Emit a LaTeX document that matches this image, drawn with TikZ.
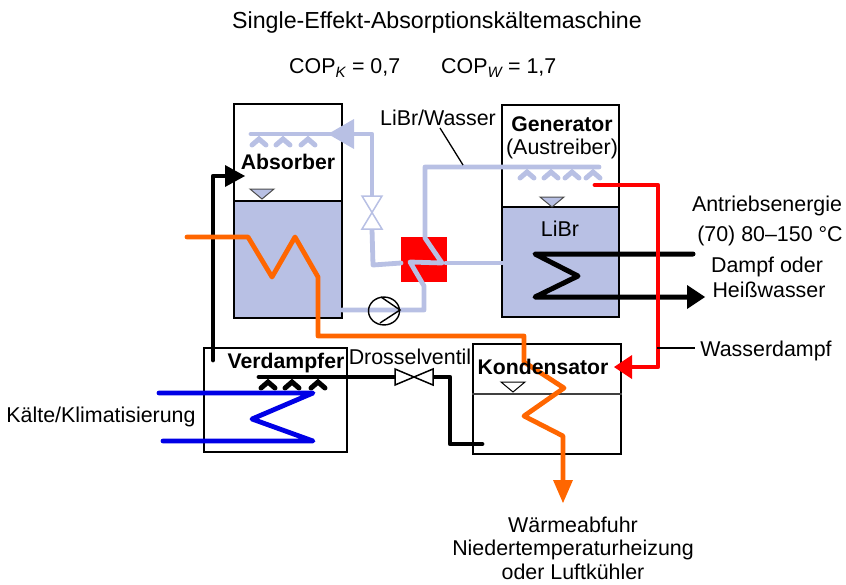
\documentclass[tikz,border=0pt]{standalone}
\usepackage{fontspec}
\setmainfont{Liberation Sans}
\usetikzlibrary{arrows.meta}
\definecolor{libr}{RGB}{184,192,228}
\definecolor{oran}{RGB}{255,102,0}
\definecolor{blu}{RGB}{0,0,230}
\tikzset{
  lab/.style={inner sep=0pt,font=\fontsize{21.4}{24}\selectfont,text=black,anchor=center},
  blab/.style={lab,font=\fontsize{21.2}{24}\selectfont\bfseries},
  tlab/.style={lab,font=\fontsize{23.2}{26}\selectfont},
  pipe/.style={line width=#1,line cap=round,line join=round},
  pipe/.default=4pt,
  leader/.style={draw=black,line width=1.3pt},
  bluepipe/.style={pipe=4.8pt,draw=libr},
  valve/.style={draw=#1,fill=white,line width=1.5pt,line join=miter},
  level/.style={draw=black,line width=1pt,fill=#1},
  nozzle/.style={line width=5pt,line cap=round,line join=miter},
}
\newcommand{\nozzleat}[3]{\draw[nozzle,#3] (#1-7,#2+6) -- (#1,#2) -- (#1+7,#2+6);}
\begin{document}
\begin{tikzpicture}[x=1pt,y=-1pt]
\useasboundingbox (0,0) rectangle (846,584);
% liquid fills
\fill[libr] (234,201) rectangle (342,318);
\fill[libr] (502,207) rectangle (619,317);
\fill[red] (401,237) rectangle (447,282);
% vessels
\node[draw,line width=1.5pt,minimum width=108pt,minimum height=214pt,inner sep=0pt] (abs) at (288,211) {};
\node[draw,line width=1.5pt,minimum width=117pt,minimum height=212pt,inner sep=0pt] (gen) at (560.5,211) {};
\node[draw,line width=1.5pt,minimum width=143pt,minimum height=104pt,inner sep=0pt] (ver) at (275.5,400) {};
\node[draw,line width=1.5pt,minimum width=148pt,minimum height=110pt,inner sep=0pt] (kon) at (547,399) {};
\draw[line width=1.4pt] (abs.west |- 0,201) -- (abs.east |- 0,201);
\draw[line width=1.4pt] (gen.west |- 0,207) -- (gen.east |- 0,207);
\draw[line width=1.2pt,black!75] (kon.west |- 0,394) -- (kon.east |- 0,394);
% level marks
\draw[level=libr,draw=black!70] (250,189) -- (274,189) -- (262,199) -- cycle;
\draw[level=libr,draw=black!70] (540,197) -- (564,197) -- (552,207) -- cycle;
\draw[level=white] (501,382) -- (525,382) -- (513,392) -- cycle;
% named pipe ends
\coordinate (solOut) at (342,310);
\coordinate (hxTop) at (425,167);
\coordinate (sprayG) at (599,167);
\coordinate (hxRet) at (446,263);
\coordinate (genOut) at (502,263);
\coordinate (hxLeft) at (401,263);
\coordinate (valveA) at (372,229);
\coordinate (valveB) at (372,196);
\coordinate (sprayA) at (251,134);
\coordinate (tipA) at (328,134);
\coordinate (tipB) at (245,176);
\coordinate (verOut) at (213,360);
\coordinate (tipH) at (705,297);
\coordinate (hIn) at (693,254);
\coordinate (vapStart) at (595,185);
\coordinate (tipK) at (614,367);
\coordinate (oStart) at (187,237);
\coordinate (tipO) at (563,503);
\coordinate (bStart) at (159,393);
\coordinate (bEnd) at (163,441);
\coordinate (sprayV) at (259,377);
\coordinate (konOut) at (482,444);
% absorber / HX LiBr
\draw[bluepipe] (solOut) -- (424,310) -- (424,286) -- (410,262) -- (442,263) -- (425,238) -- (hxTop) -- (sprayG);
\draw[bluepipe] (hxRet) -- (genOut);
\draw[bluepipe] (hxLeft) -- (373,265) -- (valveA);
\draw[bluepipe] (valveB) -- (372,134) -- (sprayA);
\fill[libr] (tipA) -- (354,119) -- (354,149) -- cycle;
\foreach \x in {259,283,308} {\nozzleat{\x}{139}{draw=libr}}
\foreach \x in {527,551,572,593} {\nozzleat{\x}{172}{draw=libr}}
% valve absorber
\draw[valve=libr] (362,196) -- (382,196) -- (362,229) -- (382,229) -- cycle;
% pump
\node[draw,circle,line width=1.4pt,minimum width=31pt,inner sep=0pt,yscale=0.9] (pump) at (384,311) {};
\draw[line width=1.4pt] (381,297) -- (400,310) -- (380,323);
% black lines
\draw[pipe=5pt] (hIn) -- (535,254) -- (578,276) -- (535,297) -- (690,297);
\fill (tipH) -- (687,285) -- (687,309) -- cycle;
\draw[pipe=4.8pt] (verOut) -- (213,176) -- (228,176);
\fill (tipB) -- (225,165) -- (225,187) -- cycle;
\draw[pipe=4.8pt] (sprayV) -- (395,377);
\draw[pipe=4.8pt] (432,377) -- (450,377) -- (450,444) -- (konOut);
\foreach \x in {268,292,318} {\nozzleat{\x}{382}{draw=black}}
\draw[valve=black] (395,369) -- (395,385) -- (433,369) -- (433,385) -- cycle;
% blue
\draw[pipe=4.8pt,draw=blu] (bStart) -- (313,393) -- (252,419) -- (313,441) -- (bEnd);
% red
\draw[pipe=4.8pt,draw=red] (vapStart) -- (658,185) -- (658,367) -- (630,367);
\fill[red] (tipK) -- (632,355) -- (632,379) -- cycle;
% orange
\draw[pipe=4.8pt,draw=oran] (oStart) -- (248,237) -- (272,277) -- (295,237) -- (318,277) -- (318,336) -- (524,336) -- (524,362) -- (564,388) -- (524,416) -- (563,436) -- (563,482);
\fill[oran] (tipO) -- (553,480) -- (573,480) -- cycle;
% leaders
\coordinate (wd) at (695,348);
\coordinate (wdS) at (657,348);
\coordinate (lwA) at (440,128);
\coordinate (lwB) at (463,165);
\draw[leader] (wdS) -- (wd);
\draw[leader] (lwA) -- (lwB);
% labels
\node[tlab] (title) at (437,22) {Single-Effekt-Absorptionskältemaschine};
\node[lab,anchor=west] (copk) at (289,68) {COP$_{\mathit{K}}$ = 0,7};
\node[lab,anchor=west] (copw) at (441,68) {COP$_{\mathit{W}}$ = 1,7};
\node[blab] (tabs) at (288,162) {Absorber};
\node[lab] (tlw) at (438,118) {LiBr/Wasser};
\node[blab] (tgen) at (562,124) {Generator};
\node[lab] (taus) at (562,149) {(Austreiber)};
\node[lab] (tlibr) at (560,229) {LiBr};
\node[lab] (t1) at (767,206) {Antriebsenergie};
\node[lab] (t2) at (770,236) {(70) 80–150 °C};
\node[lab] (t3) at (767,267) {Dampf oder};
\node[lab] (t4) at (769,290) {Heißwasser};
\node[lab] (twd) at (766,351) {Wasserdampf};
\node[lab] (tdr) at (410,357) {Drosselventil};
\node[blab] (tver) at (286,363) {Verdampfer};
\node[blab] (tkon) at (543,367) {Kondensator};
\node[lab] (tkl) at (101,417) {Kälte/Klimatisierung};
\node[lab] (tw1) at (573,525) {Wärmeabfuhr};
\node[lab] (tw2) at (573,550) {Niedertemperaturheizung};
\node[lab] (tw3) at (573,572) {oder Luftkühler};
\end{tikzpicture}
\end{document}
